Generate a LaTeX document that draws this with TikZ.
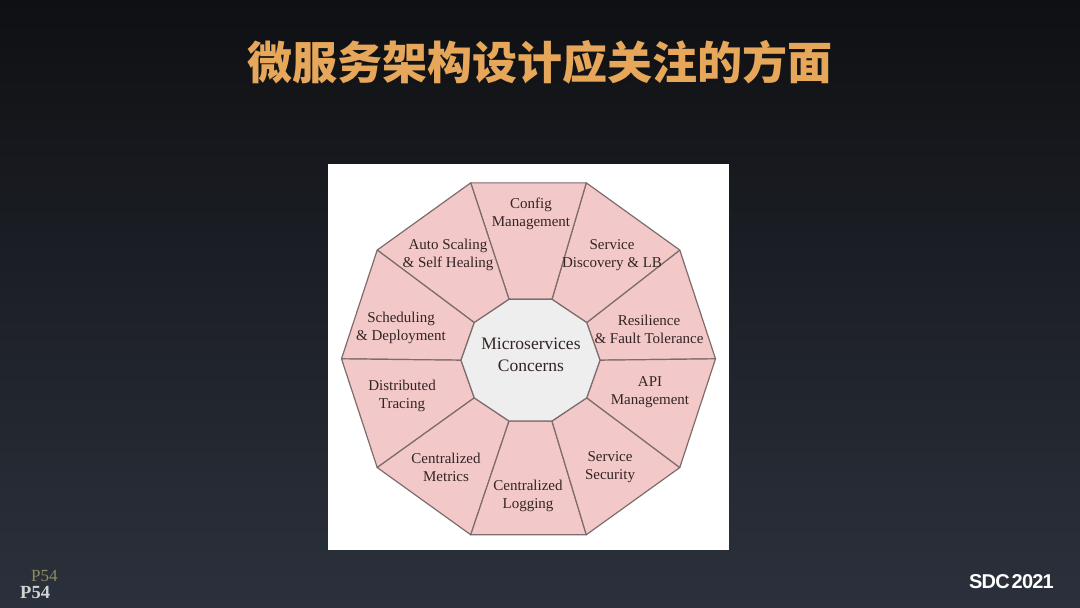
\documentclass[tikz,border=0pt]{standalone}
\usepackage{fontspec}
\setmainfont{Liberation Serif}
\newfontfamily\cjk{Noto Sans CJK SC}
\newfontfamily\sdcfont{Liberation Sans}[LetterSpace=-4]
\usepackage{tikz}
\definecolor{bgtop}{HTML}{0F1013}
\definecolor{bgbot}{HTML}{2B313C}
\definecolor{segpink}{HTML}{F2C8C8}
\definecolor{coregray}{HTML}{EEEEEE}
\definecolor{edgegray}{HTML}{7E6C6C}
\definecolor{inkbrown}{HTML}{332424}
\definecolor{titlegold}{HTML}{E6A75A}
\definecolor{pageolive}{HTML}{8E8C60}
\definecolor{pagegray}{HTML}{D2D2D2}
\tikzset{
  segfill/.style  = {fill=segpink,draw=edgegray,line width=1.2pt,line join=round},
  corefill/.style = {fill=coregray,draw=edgegray,line width=1.2pt,line join=round},
  segtext/.style  = {align=center,text=inkbrown,inner sep=0pt,
                     font=\fontsize{15}{18}\selectfont},
  coretext/.style = {align=center,text=inkbrown,inner sep=0pt,
                     font=\fontsize{17.5}{22}\selectfont}
}
\newcommand{\concern}[4]{%
  \node[segtext] (#1) at (#2,#3) {#4};
}

\begin{document}
\begin{tikzpicture}[x=1pt,y=-1pt]
  \useasboundingbox (0,0) rectangle (1080,608);
  \shade[top color=bgtop,bottom color=bgbot] (0,0) rectangle (1080,608);
  \node[font=\cjk\bfseries\fontsize{45}{50}\selectfont,text=titlegold]
       (title) at (540,62) {微服务架构设计应关注的方面};
  \fill[white] (328,164) rectangle (729,550);
  \foreach \k in {0,...,9}{
    \coordinate (o\k) at ({528.5+187*cos(36*\k)},{358.8-185*sin(36*\k)});
    \coordinate (i\k) at ({530.5+69.5*cos(36*\k)},{360.2-64*sin(36*\k)});
  }
  \foreach \k [evaluate=\k as \n using {int(mod(\k+1,10))}] in {0,...,9}
    \path[segfill] (o\k) -- (o\n) -- (i\n) -- (i\k) -- cycle;
  \path[corefill] (i0) -- (i1) -- (i2) -- (i3) -- (i4)
                  -- (i5) -- (i6) -- (i7) -- (i8) -- (i9) -- cycle;
  \node[coretext] (core) at (531,355) {Microservices\\Concerns};
  \concern{config}{531}{214}{Config\\Management}
  \concern{discovery}{612}{255}{Service\\Discovery \& LB}
  \concern{resilience}{649}{329}{Resilience\\\& Fault Tolerance}
  \concern{api}{650}{392}{API\\Management}
  \concern{security}{610}{467}{Service\\Security}
  \concern{logging}{528}{496}{Centralized\\Logging}
  \concern{metrics}{446}{467}{Centralized\\Metrics}
  \concern{tracing}{402}{396}{Distributed\\Tracing}
  \concern{scheduling}{401}{328}{Scheduling\\\& Deployment}
  \concern{scaling}{448}{255}{Auto Scaling\\\& Self Healing}
  \node[anchor=base west,inner sep=0pt,text=pageolive,
        font=\fontsize{17}{19}\selectfont] (pgtop) at (31,581) {P54};
  \node[anchor=base west,inner sep=0pt,text=pagegray,
        font=\bfseries\fontsize{18.5}{20}\selectfont] (pgbot) at (20,598) {P54};
  \node[anchor=base east,inner sep=0pt,text=white,
        font=\sdcfont\bfseries\fontsize{20}{22}\selectfont]
       (sdc) at (1054,588) {SDC\hspace{2pt}2021};
\end{tikzpicture}
\end{document}
